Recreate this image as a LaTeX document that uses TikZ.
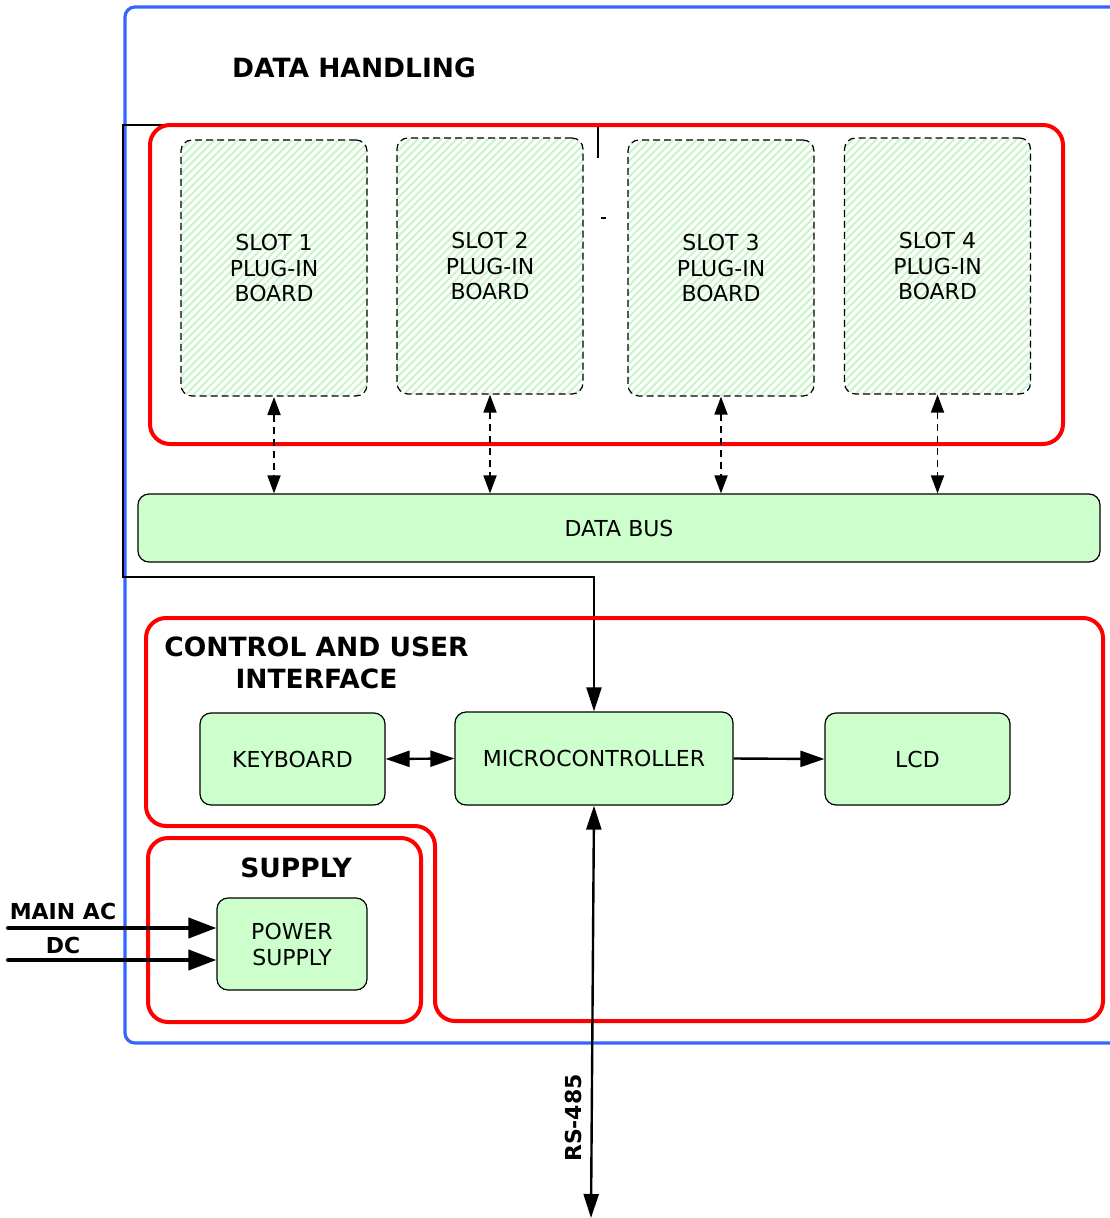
\documentclass[tikz,border=0pt]{standalone}
\usepackage{fontspec}
\setmainfont{DejaVu Sans}
\usetikzlibrary{arrows.meta,patterns.meta}
\definecolor{boxgreen}{RGB}{204,255,204}
\definecolor{hatchgreen}{RGB}{200,245,200}
\definecolor{bluebox}{RGB}{51,102,255}
\tikzset{
  greenbox/.style={draw=black,line width=1.2pt,fill=boxgreen,rounded corners=11pt,inner sep=0pt,align=center,font=\fontsize{22}{26}\selectfont},
  slotbox/.style={draw=black,line width=1.2pt,dash pattern=on 7pt off 4pt,rounded corners=11pt,inner sep=0pt,align=center,
     pattern={Lines[angle=45,distance=5.5pt,line width=2pt]},pattern color=hatchgreen,font=\fontsize{22}{25.5}\selectfont,minimum width=186pt,minimum height=256pt},
  redframe/.style={draw=red,line width=4pt,rounded corners=20pt},
  title/.style={font=\fontsize{26.5}{32}\selectfont\bfseries,align=center,inner sep=0pt},
  smalltitle/.style={font=\fontsize{22}{26}\selectfont\bfseries,inner sep=0pt},
  dasharrow/.style={line width=1.8pt,dash pattern=on 7pt off 5pt,{Triangle[length=18pt,width=13pt]}-{Triangle[length=18pt,width=13pt]}},
  bigarrow/.style={line width=4pt,-{Triangle[length=28pt,width=20pt]}},
  midarrow/.style={line width=2.4pt,-{Triangle[length=24pt,width=16pt]}},
}
\begin{document}
\begin{tikzpicture}[x=1pt,y=-1pt]
\useasboundingbox (0,0) rectangle (1110,1218);
% blue outer frame
\draw[bluebox,line width=3.2pt,rounded corners=10pt] (125,7) rectangle (1140,1043);
\node[title] (dh) at (354,68) {DATA HANDLING};
% black connector from top to microcontroller (drawn before red frame)
\node[greenbox,minimum width=278pt,minimum height=93pt] (mcu) at (594,758.5) {MICROCONTROLLER};
\coordinate (tick) at (598,158);
\coordinate (c1) at (598,125);
\coordinate (c2) at (123,125);
\coordinate (c3) at (123,577);
\coordinate (c4) at (594,577);
\draw[line width=2.2pt,-{Triangle[length=24pt,width=15pt]}] (tick) -- (c1) -- (c2) -- (c3) -- (c4) -- (mcu.north);
% red frame of slots
\draw[redframe] (150,125) rectangle (1063,444);
% slots
\node[slotbox] (s1) at (274,268) {SLOT 1\\PLUG-IN\\BOARD};
\node[slotbox] (s2) at (490,266) {SLOT 2\\PLUG-IN\\BOARD};
\node[slotbox] (s3) at (721,268) {SLOT 3\\PLUG-IN\\BOARD};
\node[slotbox] (s4) at (937.5,266) {SLOT 4\\PLUG-IN\\BOARD};
\draw[line width=2pt] (601,218) -- (606,218);
% data bus
\node[greenbox,minimum width=962pt,minimum height=68pt] (bus) at (619,528) {DATA BUS};
\draw[dasharrow] (s1.south) -- (s1.south |- bus.north);
\draw[dasharrow] (s2.south) -- (s2.south |- bus.north);
\draw[dasharrow] (s3.south) -- (s3.south |- bus.north);
\draw[dasharrow] (s4.south) -- (s4.south |- bus.north);
% control frame
\draw[redframe] (146,618) -- (1103,618) -- (1103,1021) -- (435,1021) -- (435,826) -- (146,826) -- cycle;
\node[title] (ctl) at (316.5,663) {CONTROL AND USER\\INTERFACE};
\node[greenbox,minimum width=185pt,minimum height=92pt] (kbd) at (292.5,759) {KEYBOARD};
\node[greenbox,minimum width=185pt,minimum height=92pt] (lcd) at (917.5,759) {LCD};
\draw[midarrow,{Triangle[length=24pt,width=16pt]}-{Triangle[length=24pt,width=16pt]}] (kbd.east) -- (mcu.west);
\draw[midarrow] (mcu.east) -- (lcd.west);
% supply frame
\draw[redframe] (148,838) rectangle (421,1022);
\node[title] (sup) at (296,868) {SUPPLY};
\node[greenbox,minimum width=150pt,minimum height=92pt] (psu) at (292,944) {POWER\\SUPPLY};
\coordinate (acin) at (8,928);
\coordinate (dcin) at (8,960);
\draw[bigarrow,line cap=round] (acin) -- (acin -| psu.west);
\draw[bigarrow,line cap=round] (dcin) -- (dcin -| psu.west);
\node[smalltitle] (aclab) at (63,911) {MAIN AC};
\node[smalltitle] (dclab) at (63,945) {DC};
% RS-485
\coordinate (rsend) at (591,1218);
\draw[line width=2.4pt,{Triangle[length=24pt,width=15pt]}-{Triangle[length=24pt,width=15pt]}] (mcu.south) -- (rsend);
\node[smalltitle,rotate=90] (rs) at (573,1118) {RS-485};
\end{tikzpicture}
\end{document}
